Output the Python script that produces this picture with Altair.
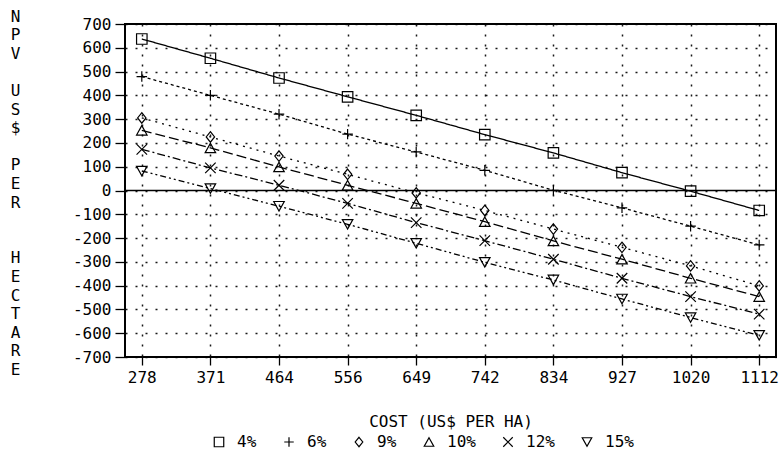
import altair as alt
import pandas as pd

costs = [278, 371, 464, 556, 649, 742, 834, 927, 1020, 1112]
rates = ["4%", "6%", "9%", "10%", "12%", "15%"]
npv_4 = [637, 556, 473, 394, 316, 235, 158, 75, -3, -84]
npv_6 = [479, 400, 321, 237, 162, 85, 1, -73, -150, -229]
npv_9 = [305, 225, 145, 68, -10, -84, -162, -239, -317, -401]
npv_10 = [253, 179, 99, 22, -54, -131, -212, -289, -369, -446]
npv_12 = [173, 95, 22, -54, -135, -211, -289, -369, -446, -520]
npv_15 = [82, 8, -66, -142, -222, -302, -376, -456, -534, -609]
y_ticks = list(range(-700, 701, 100))

series = [npv_4, npv_6, npv_9, npv_10, npv_12, npv_15]
rows = []
for r, vals in zip(rates, series):
    for c, v in zip(costs, vals):
        rows.append({"cost": c, "npv": v, "rate": r, "style": r})
df = pd.DataFrame(rows)
zero = pd.DataFrame({"npv": [0]})

FONT = "DejaVu Sans Mono"
shapes = [
    "M-1,-1L1,-1L1,1L-1,1Z",
    "M-1,0L1,0M0,-1L0,1",
    "M0,-1L0.8,0L0,1L-0.8,0Z",
    "M0,-0.9L1,0.9L-1,0.9Z",
    "M-1,-1L1,1M-1,1L1,-1",
    "M-1,-0.9L1,-0.9L0,0.9Z",
]
dashes = [[1, 0], [3, 3], [2, 5], [10, 4], [8, 3, 2, 3], [6, 3, 2, 3, 2, 3]]

B = "\u2800"
ytitle = ["N", "P", "V", B, "U", "S", "$", B, "P", "E", "R", B, B,
          "H", "E", "C", "T", "A", "R", "E"]

x_enc = alt.X("cost:O", scale=alt.Scale(type="point", padding=0.245),
              axis=alt.Axis(title="COST (US$ PER HA)", labelAngle=0, tickSize=8,
                            labelPadding=4, grid=True, titleY=64,
                            titleBaseline="middle"))
y_enc = alt.Y("npv:Q", scale=alt.Scale(domain=[-700, 700], nice=False),
              axis=alt.Axis(values=y_ticks, tickSize=10, labelPadding=4,
                            labelOverlap=False, labelBound=False, labelSeparation=0,
                            grid=True, title=ytitle, titleAngle=0, titleX=-110,
                            titleY=-16, titleAlign="center", titleBaseline="top",
                            titleLineHeight=18.6,
                            labelExpr="toString(datum.value)"))

lines = alt.Chart(df).mark_line(color="black", strokeWidth=1.3).encode(
    x=x_enc, y=y_enc,
    detail="style:N",
    strokeDash=alt.StrokeDash("style:N", scale=alt.Scale(domain=rates, range=dashes), legend=None),
)

points = alt.Chart(df).mark_point(filled=False, color="black", strokeWidth=1.2, size=110, opacity=1).encode(
    x=x_enc, y=y_enc,
    shape=alt.Shape("rate:N", scale=alt.Scale(domain=rates, range=shapes),
                    legend=alt.Legend(title=None, orient="none", direction="horizontal",
                                      legendX=86, legendY=410)),
)

zline = alt.Chart(zero).mark_rule(color="black", strokeWidth=1.5).encode(y=y_enc)

chart = alt.layer(lines, zline, points).resolve_legend(
    shape="independent", strokeDash="independent"
).properties(
    width=651, height=333,
    autosize=alt.AutoSizeParams(type="none"),
    padding={"left": 125, "top": 24, "right": 7, "bottom": 104},
    background="white",
).configure_view(stroke="black", strokeWidth=2).configure_axis(
    domain=False, tickColor="black", tickWidth=1.3, labelOverlap=False,
    labelFont=FONT, labelFontSize=16, labelColor="black",
    titleFont=FONT, titleFontSize=16, titleFontWeight="normal", titleColor="black",
    gridColor="black", gridDash=[2, 8], gridWidth=1.5, gridOpacity=0.9,
).configure_legend(
    labelFont=FONT, labelFontSize=16, labelColor="black", labelOffset=10,
    columnPadding=24, symbolSize=90, symbolStrokeWidth=1.2,
    symbolStrokeColor="black", symbolFillColor="transparent",
)

chart.save("out.html", embed_options={"renderer": "svg", "actions": False})
